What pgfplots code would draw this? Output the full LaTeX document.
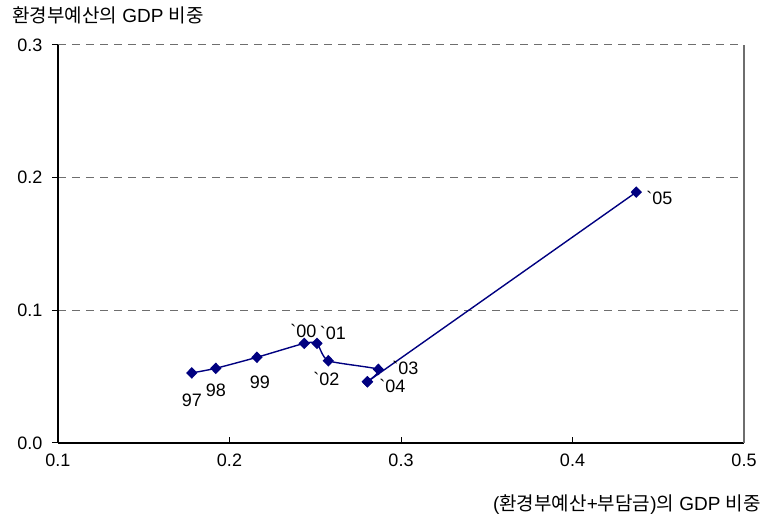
\documentclass[border=0pt]{standalone}
\usepackage{fontspec}
\setmainfont{Liberation Sans}
\newfontfamily\kr{Noto Sans CJK KR}
\usepackage{pgfplots}
\pgfplotsset{compat=1.18}
\definecolor{navyline}{RGB}{0,0,128}
\definecolor{gridgray}{RGB}{110,110,110}
\pgfplotsset{series/.style={navyline, line width=1.4pt,
    mark=diamond*, mark size=4.8pt,
    mark options={solid, fill=navyline, xscale=1.3}}}

\begin{document}
\begin{tikzpicture}
\useasboundingbox (-58pt,-76pt) rectangle (705pt,443pt);
\begin{axis}[
  at={(0pt,0pt)}, anchor=south west,
  scale only axis,
  width=686pt, height=398pt,
  xmin=0.1, xmax=0.5, ymin=0, ymax=0.3,
  axis x line*=bottom, axis y line*=left,
  axis line style={line width=1.4pt, -},
  xtick={0.1,0.2,0.3,0.4,0.5},
  ytick={0,0.1,0.2,0.3},
  x tick style={line width=1pt, black},
  y tick style={line width=1pt, black},
  xtick align=inside, ytick align=outside,
  major tick length=6pt,
  /pgf/number format/assume math mode=true,
  /pgf/number format/.cd, fixed, fixed zerofill, precision=1, /pgfplots/.cd,
  tick label style={font=\fontsize{18}{20}\selectfont, black},
  xticklabel style={yshift=-7pt},
  yticklabel style={xshift=-6pt},
  ymajorgrids,
  grid style={gridgray, line width=1pt, dash pattern=on 8pt off 6pt},
  clip=false,
]
% right frame edge
\draw[gridgray, line width=1.2pt] (axis cs:0.5,0) -- (axis cs:0.5,0.3);

% 2004--2005
\addplot[series] coordinates {
    (0.2804,0.0462) % 04
    (0.4372,0.1891) % 05
  };
% 1997--2004, smoothed
\addplot[series, smooth, tension=0.35]
  coordinates {
    (0.178,0.0528) % 97
    (0.192,0.0563) % 98
    (0.216,0.0646) % 99
    (0.2436,0.0751) % 00
    (0.251,0.0751) % 01
    (0.2576,0.0620) % 02
    (0.2868,0.0555) % 03
    (0.2804,0.0462) % 04
  };

\begin{scope}[every node/.style={font=\fontsize{18}{20}\selectfont, inner sep=0pt}]
\node at ([yshift=-27pt]axis cs:0.178,0.0528) {97};
\node at ([yshift=-22pt]axis cs:0.192,0.0563) {98};
\node at ([xshift=3pt,yshift=-25pt]axis cs:0.216,0.0646) {99};
\node at ([xshift=-1pt,yshift=12pt]axis cs:0.2436,0.0751) {\textasciigrave 00};
\node at ([xshift=16pt,yshift=10pt]axis cs:0.251,0.0751) {\textasciigrave 01};
\node at ([xshift=-2pt,yshift=-18pt]axis cs:0.2576,0.0620) {\textasciigrave 02};
\node at ([xshift=27pt,yshift=1pt]axis cs:0.2868,0.0555) {\textasciigrave 03};
\node at ([xshift=25pt,yshift=-4pt]axis cs:0.2804,0.0462) {\textasciigrave 04};
\node at ([xshift=23pt,yshift=-6pt]axis cs:0.4372,0.1891) {\textasciigrave 05};
\end{scope}
\end{axis}

% axis titles
\node[anchor=west, inner sep=0pt, font=\fontsize{19}{22}\selectfont] at (-46pt,428pt)
  {{\kr 환경부예산의} GDP {\kr 비중}};
\node[anchor=east, inner sep=0pt, font=\fontsize{19}{22}\selectfont] at (703pt,-62pt)
  {({\kr 환경부예산}+{\kr 부담금}){\kr 의} GDP {\kr 비중}};
\end{tikzpicture}
\end{document}
